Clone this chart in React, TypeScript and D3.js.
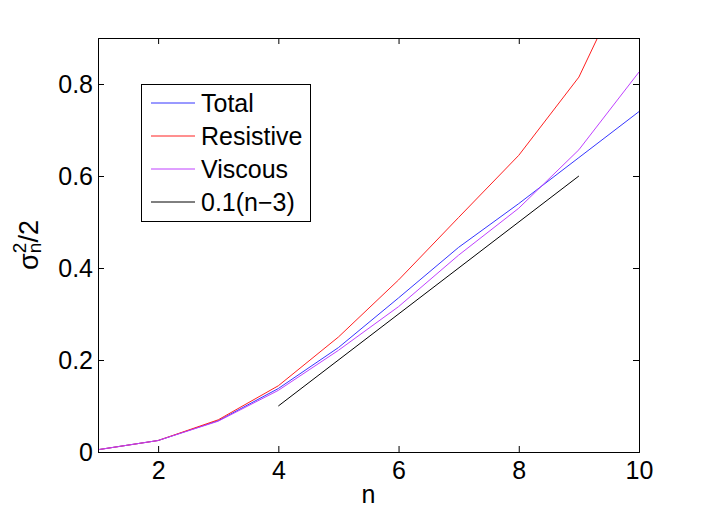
import React, { useRef, useEffect } from 'react';
import * as d3 from 'd3';

const nValues = [1, 2, 3, 4, 5, 6, 7, 8, 9, 10];
const total = [0.005, 0.025, 0.068, 0.138, 0.227, 0.335, 0.445, 0.54, 0.64, 0.74];
const resistive = [0.005, 0.025, 0.07, 0.144, 0.25, 0.374, 0.51, 0.645, 0.815, 1.09];
const viscous = [0.005, 0.025, 0.067, 0.134, 0.221, 0.316, 0.428, 0.53, 0.657, 0.826];
const refN = [4, 9];
const refLine = [0.1, 0.6];

const xTicks = [2, 4, 6, 8, 10];
const yTicks = [0, 0.2, 0.4, 0.6, 0.8];

const seriesList = [
  { name: 'Total', x: nValues, y: total, color: '#3535ff' },
  { name: 'Resistive', x: nValues, y: resistive, color: '#ff2020' },
  { name: 'Viscous', x: nValues, y: viscous, color: '#bf40ff' },
  { name: '0.1(n\u22123)', x: refN, y: refLine, color: '#000000' },
];

const width = 706;
const height = 514;
const margin = { top: 38, right: 67, bottom: 62, left: 98 };
const font = 'Liberation Sans, Arial, sans-serif';
const fontSize = 25;

const App: React.FC = () => {
  const svgRef = useRef<SVGSVGElement | null>(null);

  useEffect(() => {
    document.body.style.margin = '0';
    if (!svgRef.current) return;
    const svg = d3.select(svgRef.current);
    svg.selectAll('*').remove();

    const x = d3.scaleLinear().domain([1, 10]).range([margin.left, width - margin.right]);
    const y = d3.scaleLinear().domain([0, 0.9]).range([height - margin.bottom, margin.top]);

    svg.append('rect').attr('width', width).attr('height', height).attr('fill', '#fff');

    const defs = svg.append('defs');
    defs.append('clipPath').attr('id', 'plotclip')
      .append('rect')
      .attr('x', margin.left).attr('y', margin.top)
      .attr('width', x(10) - x(1)).attr('height', y(0) - y(0.9));

    const line = d3.line<[number, number]>()
      .x(d => x(d[0]))
      .y(d => y(d[1]));

    const plot = svg.append('g').attr('clip-path', 'url(#plotclip)');
    seriesList.forEach(s => {
      plot.append('path')
        .datum(s.x.map((v, i) => [v, s.y[i]] as [number, number]))
        .attr('fill', 'none')
        .attr('stroke', s.color)
        .attr('stroke-width', 1)
        .attr('d', line);
    });

    // axes box with inward ticks
    const tickLen = 6;
    const bottom = svg.append('g')
      .attr('transform', `translate(0,${y(0)})`)
      .call(d3.axisBottom(x).tickValues(xTicks).tickSize(-tickLen).tickPadding(9).tickFormat(d3.format('d')));
    const top = svg.append('g')
      .attr('transform', `translate(0,${y(0.9)})`)
      .call(d3.axisTop(x).tickValues(xTicks).tickSize(-tickLen).tickFormat(() => ''));
    const left = svg.append('g')
      .attr('transform', `translate(${x(1)},0)`)
      .call(d3.axisLeft(y).tickValues(yTicks).tickSize(-tickLen).tickPadding(5).tickFormat(d => d === 0 ? '0' : d3.format('.1f')(d as number)));
    const right = svg.append('g')
      .attr('transform', `translate(${x(10)},0)`)
      .call(d3.axisRight(y).tickValues(yTicks).tickSize(-tickLen).tickFormat(() => ''));

    [bottom, top, left, right].forEach(g => {
      g.select('.domain').attr('stroke', '#000').attr('stroke-width', 1);
      g.selectAll('.tick line').attr('stroke', '#000');
      g.selectAll('.tick text').attr('font-family', font).attr('font-size', fontSize).attr('fill', '#000');
    });

    // axis labels
    svg.append('text')
      .attr('x', (x(1) + x(10)) / 2)
      .attr('y', 503)
      .attr('text-anchor', 'middle')
      .attr('font-family', font)
      .attr('font-size', fontSize)
      .text('n');

    const yl = svg.append('text')
      .attr('transform', 'translate(38,245) rotate(-90)')
      .attr('text-anchor', 'middle')
      .attr('font-family', font)
      .attr('font-size', 27);
    yl.append('tspan').text('\u03c3');
    yl.append('tspan').attr('font-size', 19).attr('dy', -12).text('2');
    yl.append('tspan').attr('font-size', 19).attr('dx', -10.5).attr('dy', 15).text('n');
    yl.append('tspan').attr('dy', -3).text('/2');

    // legend
    const lg = svg.append('g');
    lg.append('rect')
      .attr('x', 141.5).attr('y', 84.5)
      .attr('width', 169).attr('height', 137)
      .attr('fill', '#fff').attr('stroke', '#000');
    seriesList.forEach((s, i) => {
      const cy = Math.round(103 + i * 33);
      lg.append('line')
        .attr('x1', 151).attr('x2', 195)
        .attr('y1', cy).attr('y2', cy)
        .attr('stroke', s.color).attr('stroke-width', 1);
      lg.append('text')
        .attr('x', 201).attr('y', cy + 9)
        .attr('font-family', font)
        .attr('font-size', fontSize)
        .text(s.name);
    });
  }, []);

  return <svg ref={svgRef} width={width} height={height} style={{ display: 'block' }}></svg>;
};

export default App;
